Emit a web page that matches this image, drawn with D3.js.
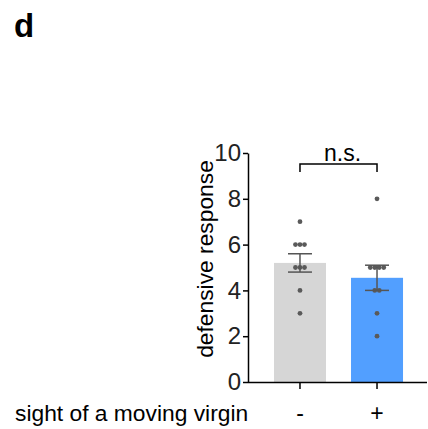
<!DOCTYPE html>
<html>
<head>
<meta charset="utf-8">
<script src="https://cdn.jsdelivr.net/npm/d3@7"></script>
<style>
  body { margin: 0; background: #fff; }
  text { font-family: "Liberation Sans", Arial, sans-serif; }
</style>
</head>
<body>
<div id="chart-area"></div>
<script>
// data
var groups = ["-", "+"];
var means = [5.2, 4.55];
var sems = [0.4, 0.55];
var points = [
  [7, 6, 6, 6, 5, 5, 5, 4, 3],
  [8, 5, 5, 5, 5, 4, 4, 3, 2]
];
var barColors = ["#d6d6d6", "#529fff"];
var yTicks = [0, 2, 4, 6, 8, 10];

var width = 428, height = 429;

var svg = d3.select("#chart-area")
  .append("svg")
  .attr("width", width)
  .attr("height", height);

// scales
var x = d3.scaleBand()
  .domain(groups)
  .range([261.5, 415.5])
  .paddingInner(0.325)
  .paddingOuter(0.162);

var y = d3.scaleLinear().domain([0, 10]).range([382, 153]);

// panel letter
svg.append("text")
  .attr("x", 14)
  .attr("y", 37)
  .attr("font-size", 33)
  .attr("font-weight", "bold")
  .text("d");

// bars
svg.selectAll(".bar")
  .data(groups)
  .join("rect")
  .attr("class", "bar")
  .attr("x", (d) => x(d))
  .attr("y", (d, i) => y(means[i]))
  .attr("width", x.bandwidth())
  .attr("height", (d, i) => y(0) - y(means[i]))
  .attr("fill", (d, i) => barColors[i]);

// dots, spread sideways when values repeat
groups.forEach(function (g, i) {
  var cx = x(g) + x.bandwidth() / 2;
  var counts = d3.rollup(points[i], (v) => v.length, (d) => d);
  var dots = [];
  counts.forEach(function (n, v) {
    for (var k = 0; k < n; k++) {
      dots.push({ v: v, dx: (k - (n - 1) / 2) * 4.5 });
    }
  });
  svg.selectAll(".dot-" + i)
    .data(dots)
    .join("circle")
    .attr("class", "dot-" + i)
    .attr("cx", (d) => cx + d.dx)
    .attr("cy", (d) => y(d.v))
    .attr("r", 2.4)
    .attr("fill", "#5a5a5a");
});

// error bars
var err = svg.selectAll(".err")
  .data(groups)
  .join("g")
  .attr("class", "err")
  .attr("stroke", "#555")
  .attr("stroke-width", 1.5);

err.append("line")
  .attr("x1", (d) => x(d) + x.bandwidth() / 2)
  .attr("x2", (d) => x(d) + x.bandwidth() / 2)
  .attr("y1", (d, i) => y(means[i] + sems[i]))
  .attr("y2", (d, i) => y(means[i] - sems[i]));

[1, -1].forEach(function (s) {
  err.append("line")
    .attr("x1", (d) => x(d) + x.bandwidth() / 2 - 12)
    .attr("x2", (d) => x(d) + x.bandwidth() / 2 + 12)
    .attr("y1", (d, i) => y(means[i] + s * sems[i]))
    .attr("y2", (d, i) => y(means[i] + s * sems[i]));
});

// axes
var yAxis = d3.axisLeft(y).tickValues(yTicks).tickSize(5).tickSizeOuter(0).tickPadding(2);
var gy = svg.append("g")
  .attr("transform", "translate(248,0)")
  .call(yAxis);
gy.selectAll("text").attr("font-size", 24).attr("fill", "#222")
  .attr("font-family", "'Liberation Sans', Arial, sans-serif");

var xAxis = d3.axisBottom(x).tickSize(7).tickSizeOuter(0).tickFormat("");
var gx = svg.append("g")
  .attr("transform", "translate(0,382)")
  .call(xAxis);
gx.select(".domain").attr("d", "M248,0.5H427");

svg.selectAll(".domain, .tick line").attr("stroke", "#000").attr("stroke-width", 1.5);

// group labels
svg.selectAll(".glabel")
  .data(groups)
  .join("text")
  .attr("class", "glabel")
  .attr("x", (d) => x(d) + x.bandwidth() / 2)
  .attr("y", 421)
  .attr("text-anchor", "middle")
  .attr("font-size", 23)
  .text((d) => d);

svg.append("text")
  .attr("x", 15)
  .attr("y", 421)
  .attr("font-size", 22.8)
  .text("sight of a moving virgin");

// y label
svg.append("text")
  .attr("transform", "translate(213,259) rotate(-90)")
  .attr("text-anchor", "middle")
  .attr("font-size", 22.8)
  .text("defensive response");

// significance bracket
var x1 = x("-") + x.bandwidth() / 2, x2 = x("+") + x.bandwidth() / 2;
svg.append("path")
  .attr("d", `M${x1},172V164H${x2}V172`)
  .attr("fill", "none")
  .attr("stroke", "#000")
  .attr("stroke-width", 1.5);

svg.append("text")
  .attr("x", (x1 + x2) / 2 + 4)
  .attr("y", 161)
  .attr("text-anchor", "middle")
  .attr("font-size", 23)
  .text("n.s.");
</script>
</body>
</html>
